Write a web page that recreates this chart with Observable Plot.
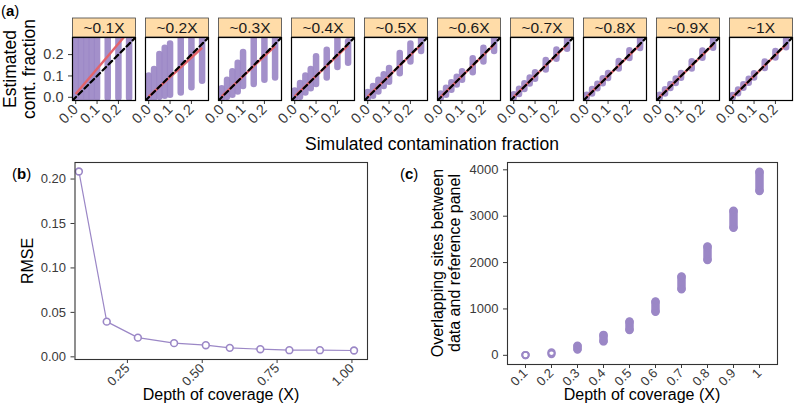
<!DOCTYPE html>
<html><head><meta charset="utf-8">
<script src="https://cdn.jsdelivr.net/npm/d3@7"></script>
<script src="https://cdn.jsdelivr.net/npm/@observablehq/plot@0.6"></script>
<style>
body{margin:0;background:#fff;font-family:"Liberation Sans",Arial,sans-serif;}
#root{position:relative;width:797px;height:413px;overflow:hidden;background:#fff;}
#root svg{position:absolute;overflow:visible;}
.t{position:absolute;white-space:nowrap;color:#000;line-height:16px;font-size:16px;}
.rot{transform:translate(-50%,-50%) rotate(-90deg);text-align:center;}
.ctr{transform:translateX(-50%);}
.tag{position:absolute;font-size:15px;line-height:15px;color:#000;}
</style></head><body><div id="root"></div>
<script>
// ---------- panel (a) data ----------
const depths = ["~0.1X","~0.2X","~0.3X","~0.4X","~0.5X","~0.6X","~0.7X","~0.8X","~0.9X","~1X"];
const simLevels = [0, 0.025, 0.05, 0.075, 0.1, 0.15, 0.2, 0.25];
const axisDomainA = [-0.015, 0.28];
const axisTicksA = [0, 0.1, 0.2];
// estimated contamination range (low / high) per depth, per simulated level
const estLo = [
  [-0.005,-0.005,-0.005,-0.005,-0.005,-0.005,-0.005,-0.005],
  [-0.005,-0.005,0.0,0.005,0.01,0.02,0.045,0.075],
  [-0.01,0.0,0.01,0.025,0.05,0.06,0.08,0.09],
  [-0.01,0.0,0.02,0.04,0.06,0.09,0.14,0.16],
  [-0.008,0.005,0.025,0.05,0.07,0.11,0.165,0.215],
  [-0.006,0.01,0.033,0.058,0.08,0.115,0.165,0.215],
  [-0.005,0.013,0.037,0.062,0.085,0.128,0.178,0.225],
  [-0.004,0.015,0.04,0.064,0.088,0.132,0.182,0.228],
  [-0.004,0.016,0.041,0.065,0.089,0.133,0.183,0.23],
  [-0.003,0.017,0.042,0.066,0.09,0.135,0.184,0.232]
];
const estHi = [
  [0.3,0.3,0.3,0.3,0.3,0.3,0.3,0.3],
  [0.1,0.13,0.2,0.23,0.25,0.3,0.3,0.3],
  [0.04,0.08,0.12,0.16,0.21,0.28,0.28,0.28],
  [0.03,0.065,0.1,0.13,0.19,0.22,0.28,0.26],
  [0.022,0.05,0.08,0.105,0.135,0.205,0.25,0.285],
  [0.016,0.042,0.068,0.094,0.12,0.18,0.23,0.28],
  [0.012,0.038,0.064,0.09,0.115,0.172,0.222,0.275],
  [0.01,0.036,0.061,0.087,0.112,0.168,0.218,0.272],
  [0.009,0.035,0.06,0.086,0.111,0.167,0.217,0.27],
  [0.008,0.034,0.059,0.085,0.11,0.165,0.215,0.268]
];
// fitted regression line: value at first and last simulated level
const fitX = [0, 0.25];
const fitStart = [0.015,0.003,0.004,0.004,0.003,0.002,0.002,0.002,0.002,0.002];
const fitEnd   = [0.31,0.232,0.24,0.243,0.246,0.247,0.247,0.247,0.247,0.247];

// ---------- panel (b) data ----------
const depthB = [0.088,0.181,0.285,0.406,0.512,0.592,0.694,0.791,0.893,1.007];
const rmse   = [0.2085,0.0396,0.0216,0.0154,0.0131,0.0101,0.0086,0.0075,0.0075,0.0071];
const ticksB = [0.25,0.5,0.75,1.0];
const yTicksB = [0,0.05,0.1,0.15,0.2];

// ---------- panel (c) data ----------
const depthC = ["0.1","0.2","0.3","0.4","0.5","0.6","0.7","0.8","0.9","1"];
const sitesLo = [5,30,125,300,545,940,1425,2055,2750,3545];
const sitesHi = [5,60,195,430,720,1150,1690,2335,3105,3950];
const yTicksC = [0,1000,2000,3000,4000];

const purple = "#9b87c6";
const red = "#e3636a";
const font = "'Liberation Sans', Arial, sans-serif";
const root = document.getElementById("root");

function place(el, left, top){ el.style.left = left+"px"; el.style.top = top+"px"; root.appendChild(el); }
function text(html, cls, left, top, extra){
  const d = document.createElement("div"); d.className = "t " + cls; d.innerHTML = html;
  if (extra) Object.assign(d.style, extra);
  place(d, left, top); return d;
}

// ---------- (a) ----------
const rowsA = depths.flatMap((d,i)=>simLevels.map((x,j)=>({depth:d, x, lo:estLo[i][j], hi:estHi[i][j]})));
const fitRows = depths.map((d,i)=>({depth:d, x1:fitX[0], x2:fitX[1], y1:fitStart[i], y2:fitEnd[i]}));
const fxOpts = {domain: depths, paddingInner: 0.143, paddingOuter: 0, axis: null, label: null};

const stripA = Plot.plot({
  width: 797, height: 20, marginLeft: 70, marginRight: 2.5, marginTop: 0.5, marginBottom: 0.5,
  style: {fontFamily: font, background: "transparent"},
  fx: fxOpts,
  marks: [
    Plot.frame({fill: "#ffdca8", stroke: "#444", strokeWidth: 0.8}),
    Plot.text(depths, {fx: d=>d, text: d=>d, frameAnchor: "middle", fontSize: 15.5, fill: "#1a1a1a", dy: 0.5})
  ]
});
place(stripA, 0, 17);

const plotA = Plot.plot({
  width: 797, height: 135, marginLeft: 70, marginRight: 2.5, marginTop: 37, marginBottom: 35,
  style: {fontFamily: font, fontSize: "14.5px", color: "#3a3a3a", background: "transparent"},
  fx: fxOpts,
  x: {domain: axisDomainA, ticks: axisTicksA, tickFormat: ".1f", tickRotate: -45, label: null, tickSize: 4, tickPadding: 2.5},
  y: {domain: axisDomainA, ticks: axisTicksA, tickFormat: ".1f", label: null, tickSize: 4},
  marks: [
    Plot.ruleX(rowsA, {fx: "depth", x: "x", y1: "lo", y2: "hi", stroke: purple, strokeWidth: 6.5, strokeLinecap: "round", strokeOpacity: 0.92, clip: true}),
    Plot.link(fitRows, {fx: "depth", x1: "x1", y1: "y1", x2: "x2", y2: "y2", stroke: red, strokeWidth: 2.4, clip: true}),
    Plot.line(axisDomainA, {x: d=>d, y: d=>d, stroke: "black", strokeWidth: 2.2, strokeDasharray: "5,3.5", clip: true}),
    Plot.frame({stroke: "black", strokeWidth: 1.2})
  ]
});
place(plotA, 0, 0);

text("Simulated contamination fraction", "ctr", 432, 136, {fontSize: "17.5px", lineHeight: "17.5px"});
text("Estimated<br>cont. fraction", "rot", 18.5, 68.5, {fontSize: "17.5px", lineHeight: "18.5px"});

// ---------- (b) ----------
const rowsB = depthB.map((x,i)=>({x, y: rmse[i]}));
const plotB = Plot.plot({
  width: 380, height: 263, marginLeft: 74.5, marginRight: 13, marginTop: 12, marginBottom: 54,
  style: {fontFamily: font, fontSize: "13px", color: "#3a3a3a", background: "transparent"},
  x: {domain: [0.075, 1.052], ticks: ticksB, tickFormat: ".2f", tickRotate: -45, label: null, tickSize: 4, tickPadding: 2.5},
  y: {domain: [-0.003, 0.2186], ticks: yTicksB, tickFormat: ".2f", label: null, tickSize: 4},
  marks: [
    Plot.line(rowsB, {x: "x", y: "y", stroke: purple, strokeWidth: 1.2}),
    Plot.dot(rowsB, {x: "x", y: "y", r: 3.4, stroke: purple, strokeWidth: 1.6, fill: "white"}),
    Plot.frame({stroke: "#333", strokeWidth: 1.1})
  ]
});
place(plotB, 0, 150);
text("Depth of coverage (X)", "ctr", 221, 386.5);
text("RMSE", "rot", 27.7, 260.5);

// ---------- (c) ----------
const rowsC = depthC.map((x,i)=>({x, lo: sitesLo[i], hi: sitesHi[i]}));
const plotC = Plot.plot({
  width: 417, height: 263, marginLeft: 127, marginRight: 20, marginTop: 12, marginBottom: 49,
  style: {fontFamily: font, fontSize: "13px", color: "#3a3a3a", background: "transparent"},
  x: {type: "point", domain: depthC, padding: 0.6, tickRotate: -45, label: null, tickSize: 4, tickPadding: 2.5},
  y: {domain: [-198, 4158], ticks: yTicksC, tickFormat: d=>String(d), label: null, tickSize: 4},
  marks: [
    Plot.ruleX(rowsC.filter(d=>d.hi - d.lo > 60), {x: "x", y1: "lo", y2: "hi", stroke: purple, strokeWidth: 8.5, strokeLinecap: "round"}),
    Plot.dot(rowsC, {x: "x", y: "lo", r: 3.3, stroke: purple, strokeWidth: 1.8, fill: "none"}),
    Plot.dot(rowsC, {x: "x", y: "hi", r: 3.3, stroke: purple, strokeWidth: 1.8, fill: "none"}),
    Plot.frame({stroke: "#333", strokeWidth: 1.1})
  ]
});
place(plotC, 380, 150);
text("Depth of coverage (X)", "ctr", 642, 386.5);
text("Overlapping sites between<br>data and reference panel", "rot", 446, 263, {lineHeight: "17px"});

// panel tags
const tagA = document.createElement("div"); tagA.className = "tag"; tagA.innerHTML = "(<b>a</b>)"; place(tagA, 1, 3);
const tagB = document.createElement("div"); tagB.className = "tag"; tagB.innerHTML = "(<b>b</b>)"; place(tagB, 12, 166);
const tagC = document.createElement("div"); tagC.className = "tag"; tagC.innerHTML = "(<b>c</b>)"; place(tagC, 400, 166);
</script></body></html>
